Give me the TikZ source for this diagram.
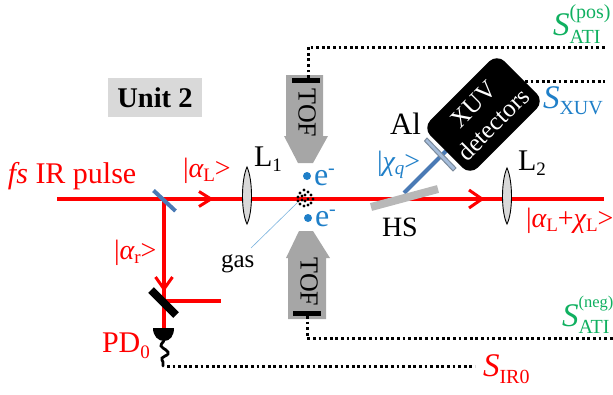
\documentclass[tikz,border=0pt]{standalone}
\usepackage{fontspec}
\usetikzlibrary{calc}
\setmainfont{Liberation Serif}
\definecolor{beamred}{HTML}{FF0000}
\definecolor{atigreen}{HTML}{10B060}
\definecolor{xuvblue}{HTML}{1F7FC8}
\definecolor{steel}{HTML}{4A7AB5}
\definecolor{tofgray}{HTML}{A6A6A6}
\newcommand{\fsz}[1]{\fontsize{#1}{#1}\selectfont}
\newcommand{\sigtext}[4]{{\fsz{33}\itshape S}\rlap{\raisebox{#3}{\fsz{20}#1}}\raisebox{#4}{\fsz{20}#2}}
\tikzset{
 beam/.style={draw=beamred,line width=4pt},
 chevron/.style={draw=beamred,line width=3pt,line join=miter},
 lbl/.style={anchor=base west,inner sep=0pt,outer sep=0pt},
 redlbl/.style={lbl,text=beamred},
 signal/.style={draw=black,line width=3pt,dash pattern=on 2.8pt off 2.8pt},
 lens/.style={draw=black,line width=0.9pt,fill=black!15},
 tofbody/.style={fill=tofgray,draw=none},
 tofbar/.style={fill=black,draw=none},
 toftext/.style={rotate=-90,inner sep=0pt,font=\fsz{26}},
 edot/.style={circle,fill=xuvblue,minimum size=8pt,inner sep=0pt},
}
\begin{document}
\begin{tikzpicture}[x=1pt,y=-1pt]
\useasboundingbox (0,0) rectangle (613,394);
% coordinates
\coordinate (in) at (57,199);
\coordinate (bs) at (164,199);
\coordinate (out) at (604,199);
\coordinate (mir) at (164,301);
\coordinate (br) at (221,301);
\coordinate (pdtop) at (164,328);
\coordinate (sigstart) at (167,366);
\coordinate (sigend) at (475,366);
\coordinate (hs) at (404,193);
\coordinate (det) at (446,151);
% unit box
\node[fill=black!15,minimum width=94pt,minimum height=39pt,inner sep=0pt] (unit) at (155,97.5) {\fsz{28.5}\bfseries Unit 2};
% beams
\draw[beam] (in) -- (out);
\draw[beam] (bs) -- (mir);
\draw[beam] (mir) -- (br);
\draw[beam] (mir) -- (pdtop);
\draw[chevron] (199,191.5) -- (211,199) -- (199,206.5);
\draw[chevron] (469,190) -- (482,199) -- (469,208);
\draw[chevron] (155.5,277) -- (164,289) -- (172.5,277);
% beam splitter
\draw[draw=steel,line width=4pt] (153.5,190.5) -- (175.5,211);
% black mirror
\draw[draw=black,line width=8pt] (151,290) -- (176,315);
% PD
\fill[black] (153,328) -- (174,328) .. controls (174,336) and (170,341) .. (164,341) .. controls (158,341) and (153,336) .. (153,328) -- cycle;
\draw[line width=2.8pt,line cap=round] plot[smooth,tension=0.8] coordinates {(164,341) (161,346) (166,350) (168,354) (162,358) (163,362) (163,366)};
\draw[signal] (sigstart) -- (sigend);
% lenses
\path[lens] (247,167) .. controls (253,180) and (253,212) .. (247,224) .. controls (241,212) and (241,180) .. (247,167) -- cycle;
\path[lens] (507,168) .. controls (513,181) and (513,212) .. (507,224) .. controls (501,212) and (501,181) .. (507,168) -- cycle;
% TOF
\path[tofbody] (286,75) -- (323,75) -- (323,136) -- (328,136) -- (313,163) -- (298,163) -- (284,136) -- (286,136) -- cycle;
\path[tofbody] (299,231) -- (313,231) -- (330,258) -- (326,258) -- (326,319) -- (288,319) -- (288,258) -- (286,258) -- cycle;
\fill[tofbar] (292,78) rectangle (320,83);
\fill[tofbar] (293,311) rectangle (321,316);
\node[toftext] (toftop) at (307,113) {TOF};
\node[toftext] (tofbot) at (309,282) {TOF};
\coordinate (tta) at (308,78);
\coordinate (ttb) at (308,47);
\coordinate (ttc) at (605,47);
\coordinate (tba) at (307,316);
\coordinate (tbb) at (307,338);
\coordinate (tbc) at (613,338);
\draw[signal] (tta) -- (ttb) -- (ttc);
\draw[signal] (tba) -- (tbb) -- (tbc);
% gas
\draw[draw=xuvblue!60,line width=0.6pt] (297,203) -- (251,248);
\foreach \dx/\dy in {-7/-1,-5/-5,-1/-8,3/-6,6/-3,8/1,6/5,3/7,-1/8,-5/6,-3/2,0/-3,3/1,0/3,-3/-2,-7/3}
  \fill[black] ($(305,198)+(\dx,\dy)$) circle (1.7pt);
% electrons
\node[edot] (e1) at (307,176) {};
\node[edot] (e2) at (308,218) {};
\node[lbl,text=xuvblue] (e1t) at (314,185) {\fsz{32}e\raisebox{11pt}{\fsz{20}-}};
\node[lbl,text=xuvblue] (e2t) at (315,226) {\fsz{32}e\raisebox{11pt}{\fsz{20}-}};
% XUV
\draw[draw=steel,line width=4pt] (hs) -- (det);
\node[fill=black,rounded corners=11pt,minimum width=105pt,minimum height=67pt,inner sep=0pt,rotate=45,text=white,align=center,font=\fontsize{25}{28}\selectfont] (xuv) at (483.5,114.5) {XUV\\detectors};
\draw[draw=steel!50!black!60,fill=steel!50!white,line width=1pt] (424.5,141) -- (427,138) -- (456,168) -- (453,171) -- cycle;
\coordinate (xuvs) at (525,81.5);
\coordinate (xuve) at (605,81.5);
\draw[signal] (xuvs) -- (xuve);
% HS plate
\draw[draw=black!28,line width=8pt] (371,207) -- (438,189);
% labels
\node[redlbl] (fs) at (8,183) {\fsz{30}\itshape fs\upshape{} IR pulse};
\node[redlbl] (aL) at (183,177) {\fsz{28}|{\itshape α}\raisebox{-4pt}{\fsz{19}L}>};
\node[lbl] (L1) at (254,166) {\fsz{30}L\raisebox{-5pt}{\fsz{19}1}};
\node[lbl] (L2) at (518,170) {\fsz{30}L\raisebox{-5pt}{\fsz{19}2}};
\node[lbl] (Al) at (390,134) {\fsz{31}Al};
\node[lbl,text=xuvblue] (chi) at (377,170) {\fsz{28}|{\itshape χ\raisebox{-4pt}{\fsz{19}q}}>};
\node[lbl] (HS) at (382,236) {\fsz{28}HS};
\node[redlbl] (ax) at (526,227) {\fsz{28}|{\itshape α}\raisebox{-4pt}{\fsz{19}L}+{\itshape χ}\raisebox{-4pt}{\fsz{19}L}>};
\node[redlbl] (ar) at (114,259) {\fsz{28}|{\itshape α}\raisebox{-4pt}{\fsz{19}r}>};
\node[lbl] (gas) at (221,267) {\fsz{25}gas};
\node[redlbl] (PD) at (102,352) {\fsz{30}PD\raisebox{-6pt}{\fsz{19}0}};
\node[lbl,text=atigreen] (spos) at (553,35) {\sigtext{ATI}{(pos)}{-8pt}{17pt}};
\node[lbl,text=atigreen] (sneg) at (562,326) {\sigtext{ATI}{\fsz{16.5}(neg)}{-7pt}{19pt}};
\node[lbl,text=xuvblue] (sxuv) at (543,108) {{\fsz{33}\itshape S}\raisebox{-6pt}{\fsz{20}XUV}};
\node[redlbl] (sir) at (483,376) {{\fsz{33}\itshape S}\raisebox{-7pt}{\fsz{20}IR0}};
\end{tikzpicture}
\end{document}
